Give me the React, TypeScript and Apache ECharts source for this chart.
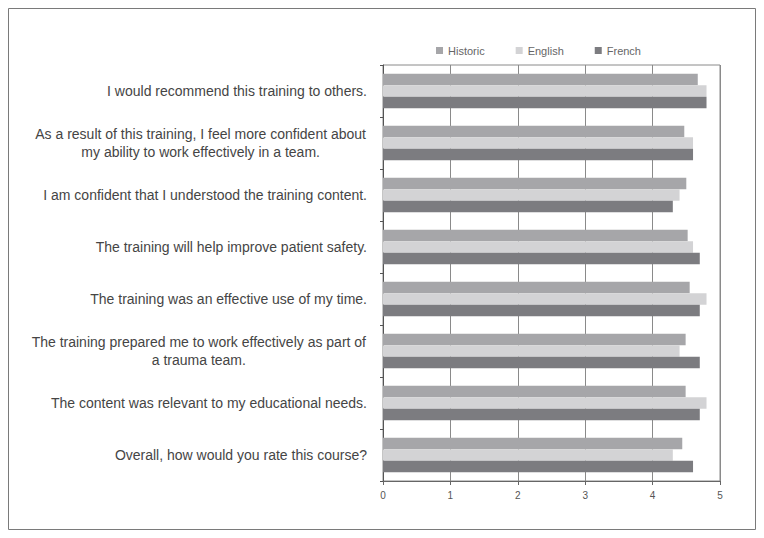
import React, { useEffect, useRef } from "react";
import * as echarts from "echarts";

const categories: string[] = [
  "I would recommend this training to others.",
  "As a result of this training, I feel more confident about\nmy ability to work effectively in a team.",
  "I am confident that I understood the training content.",
  "The training will help improve patient safety.",
  "The training was an effective use of my time.",
  "The training prepared me to work effectively as part of\na trauma team.",
  "The content was relevant to my educational needs.",
  "Overall, how would you rate this course?",
];

const historic: number[] = [4.67, 4.47, 4.5, 4.52, 4.55, 4.49, 4.49, 4.44];
const english: number[] = [4.8, 4.6, 4.4, 4.6, 4.8, 4.4, 4.8, 4.3];
const french: number[] = [4.8, 4.6, 4.3, 4.7, 4.7, 4.7, 4.7, 4.6];

const xTicks: number[] = [0, 1, 2, 3, 4, 5];

const LABEL_FONT = "Liberation Sans";
const LABEL_SIZE = 14;
const LABEL_COLOR = "#454545";

function measure(text: string, size: number): number {
  const c = document.createElement("canvas");
  const ctx = c.getContext("2d");
  if (!ctx) return text.length * size * 0.5;
  ctx.font = `${size}px "${LABEL_FONT}"`;
  return ctx.measureText(text).width;
}

export default function App() {
  const ref = useRef<HTMLDivElement>(null);
  useEffect(() => {
    document.body.style.margin = "0";
    if (!ref.current) return;
    const chart = echarts.init(ref.current, undefined, { renderer: "svg" });

    const rich: Record<string, any> = {};
    categories.forEach((c, i) => {
      if (c.includes("\n")) {
        const w = Math.max(...c.split("\n").map((l) => measure(l, LABEL_SIZE))) + 2;
        rich["m" + i] = {
          width: w,
          align: "center",
          fontSize: LABEL_SIZE,
          lineHeight: 18,
          color: LABEL_COLOR,
          fontFamily: LABEL_FONT,
        };
      }
    });

    chart.setOption({
      animation: false,
      backgroundColor: "#ffffff",
      graphic: [
        {
          type: "rect",
          shape: { x: 8.5, y: 8.5, width: 747, height: 521 },
          style: { fill: "none", stroke: "#7a7a7a", lineWidth: 1 },
          silent: true,
        },
      ],
      legend: {
        left: 431,
        top: 40,
        icon: "rect",
        itemWidth: 7,
        itemHeight: 7,
        itemGap: 31,
        itemStyle: { borderWidth: 0 },
        textStyle: { fontSize: 11, color: "#666", fontFamily: LABEL_FONT },
        data: ["Historic", "English", "French"],
      },
      grid: {
        left: 383,
        right: 44,
        top: 65,
        bottom: 57,
        show: true,
        borderColor: "#8a8a8a",
        borderWidth: 1,
        containLabel: false,
      },
      xAxis: {
        type: "value",
        min: xTicks[0],
        max: xTicks[xTicks.length - 1],
        interval: 1,
        axisLine: { show: true, lineStyle: { color: "#666" } },
        axisTick: { show: true, length: 4, lineStyle: { color: "#666" } },
        splitLine: { show: true, lineStyle: { color: "#8a8a8a", width: 1 } },
        axisLabel: {
          fontSize: 10,
          color: "#555",
          margin: 9,
          fontFamily: LABEL_FONT,
        },
      },
      yAxis: {
        type: "category",
        inverse: true,
        data: categories,
        axisLine: { show: true, lineStyle: { color: "#555" } },
        axisTick: { show: true, length: 3, lineStyle: { color: "#555" } },
        splitLine: { show: false },
        axisLabel: {
          fontSize: LABEL_SIZE,
          lineHeight: 18,
          color: LABEL_COLOR,
          margin: 16,
          fontFamily: LABEL_FONT,
          rich,
          formatter: (value: string, index: number) => {
            if (value.includes("\n")) {
              return value
                .split("\n")
                .map((l) => `{m${index}|${l}}`)
                .join("\n");
            }
            return value;
          },
        },
      },
      series: [
        {
          name: "Historic",
          type: "bar",
          data: historic,
          itemStyle: { color: "#a6a6a9" },
          barGap: "0%",
          barCategoryGap: "34%",
        },
        {
          name: "English",
          type: "bar",
          data: english,
          itemStyle: { color: "#d3d3d5" },
          barGap: "0%",
          barCategoryGap: "34%",
        },
        {
          name: "French",
          type: "bar",
          data: french,
          itemStyle: { color: "#7c7c80" },
          barGap: "0%",
          barCategoryGap: "34%",
        },
      ],
    });
    return () => chart.dispose();
  }, []);
  return <div ref={ref} style={{ width: 764, height: 538 }} />;
}
